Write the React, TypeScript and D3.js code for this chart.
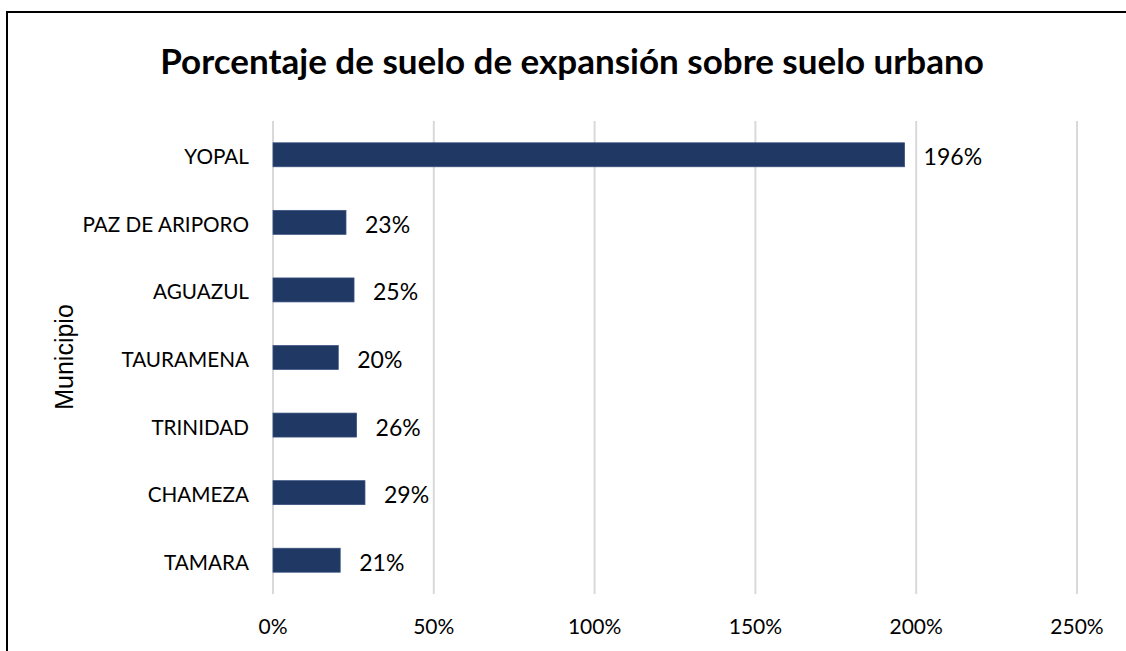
import React from "react";
import * as d3 from "d3";

const categories = ["YOPAL", "PAZ DE ARIPORO", "AGUAZUL", "TAURAMENA", "TRINIDAD", "CHAMEZA", "TAMARA"];
const values = [1.964, 0.227, 0.252, 0.203, 0.26, 0.286, 0.209];
const xTicks = [0, 0.5, 1, 1.5, 2, 2.5];
const title = "Porcentaje de suelo de expansión sobre suelo urbano";
const yTitle = "Municipio";

const W = 1126;
const H = 651;
const FONT = "Lato, 'Open Sans', sans-serif";

export default function App() {
  const x = d3.scaleLinear().domain([0, 2.5]).range([273, 1077]);
  const y = d3.scaleBand<string>().domain(categories).range([121, 594]).paddingInner(0.645).paddingOuter(0.3225);
  const fmt = (v: number) => `${Math.round(v * 100)}%`;
  return (
    <svg width={W} height={H} style={{ position: "absolute", left: 0, top: 0, background: "#fff" }}>
      <rect x={0} y={0} width={W} height={H} fill="#fff" />
      <path d={`M7,${H} V12 H${W}`} fill="none" stroke="#000" strokeWidth={2} />
      <text x={572} y={74} textAnchor="middle" fontFamily={FONT} fontWeight={700} fontSize={35} fill="#000">
        {title}
      </text>
      {xTicks.map((t) => (
        <g key={t}>
          <line x1={x(t)} x2={x(t)} y1={121} y2={594} stroke="#D9D9D9" strokeWidth={2} />
          <text x={x(t)} y={634} textAnchor="middle" fontFamily={FONT} fontSize={21} fill="#000">
            {fmt(t)}
          </text>
        </g>
      ))}
      {categories.map((c, i) => {
        const by = y(c)!;
        const bh = y.bandwidth();
        return (
          <g key={c}>
            <rect x={x(0)} y={by} width={x(values[i]) - x(0)} height={bh} fill="#203864" stroke="#3A5282" strokeWidth={0.75} />
            <text x={249} y={by + bh / 2 + 9.5} textAnchor="end" fontFamily={FONT} fontSize={20.7} fill="#000">
              {c}
            </text>
            <text x={x(values[i]) + 19} y={by + bh / 2 + 10.5} textAnchor="start" fontFamily={FONT} fontSize={23} fill="#000">
              {fmt(values[i])}
            </text>
          </g>
        );
      })}
      <text transform={`translate(73,357) rotate(-90)`} textAnchor="middle" fontFamily="'Liberation Sans', Arial, sans-serif" fontSize={25} fill="#000">
        {yTitle}
      </text>
    </svg>
  );
}
